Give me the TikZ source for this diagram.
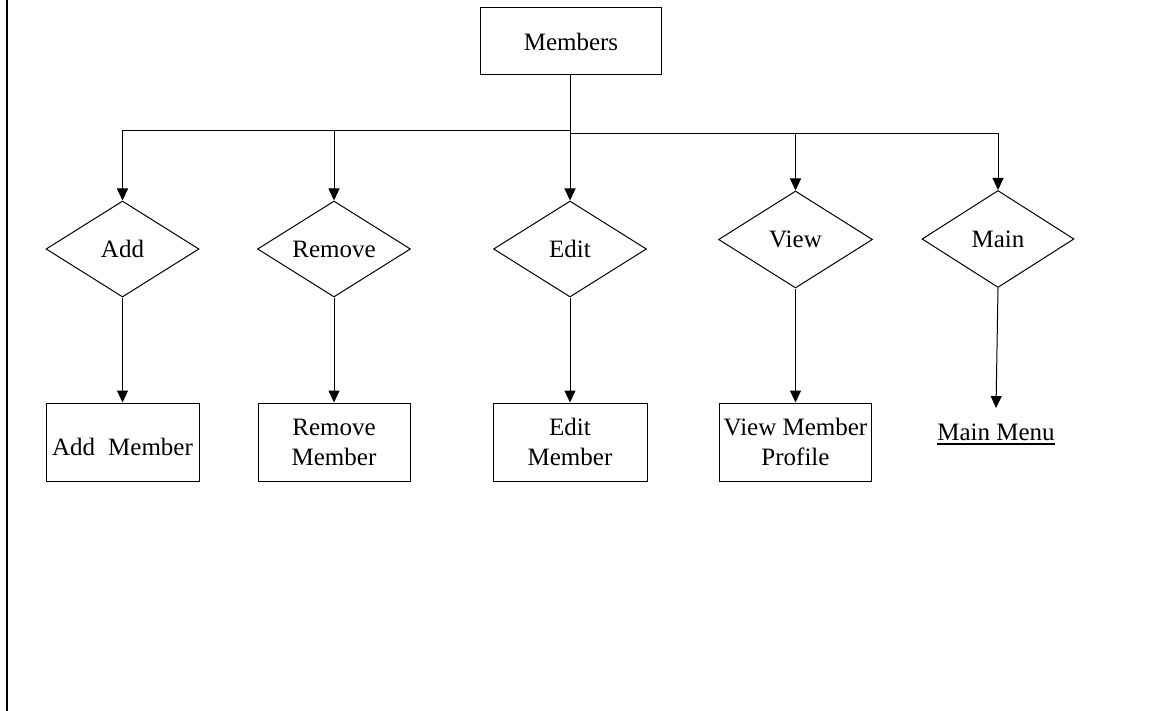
\documentclass[tikz,border=0pt]{standalone}
\usepackage{fontspec}
\setmainfont{Liberation Serif}
\usetikzlibrary{arrows.meta,shapes.geometric}
\begin{document}
\begin{tikzpicture}[x=1pt,y=-1pt,
  every node/.style={font=\fontsize{25}{30}\selectfont},
  boxnode/.style={draw,line width=1pt,rectangle,inner sep=0pt,minimum width=153pt,minimum height=78pt,align=center},
  decision/.style={draw,line width=1pt,diamond,aspect=1.6,inner sep=0pt,minimum width=153pt,minimum height=96pt},
  arr/.style={line width=1pt,-{Triangle[width=11pt,length=12pt]}},
  conn/.style={line width=1pt}]
\useasboundingbox (0,0) rectangle (1156,711);
% left border
\coordinate (bt) at (6.5,0);
\coordinate (bb) at (6.5,711);
\draw[line width=2pt] (bt) -- (bb);
% top
\node[draw,line width=1pt,rectangle,inner sep=0pt,minimum width=181pt,minimum height=67pt] (members) at (571,41.5) {Members};
% decisions
\node[decision] (add) at (122.5,249) {Add};
\node[decision] (remove) at (334,249) {Remove};
\node[decision] (edit) at (570,249) {Edit};
\node[decision,minimum width=154pt,minimum height=97pt] (view) at (795.5,239.5) {View};
\node[decision,minimum width=152pt,minimum height=97pt] (main) at (998,239) {Main};
% boxes
\node[boxnode,text height=28pt,align=none] (addm) at (122.5,442) {Add\hspace{13pt}Member};
\node[boxnode,minimum width=152pt] (remm) at (334,442) {Remove\\Member};
\node[boxnode,minimum width=154pt] (editm) at (570,442) {Edit\\Member};
\node[boxnode,minimum width=152pt] (viewm) at (795.5,442) {View Member\\Profile};
\node[inner sep=0pt,anchor=base] (mmenu) at (996,440) {Main Menu};
\draw[line width=2pt] ([yshift=-3.5pt]mmenu.base west) -- ([yshift=-3.5pt]mmenu.base east);
% junctions
\coordinate (jl) at (570,131);
\coordinate (jr) at (570,133.3);
\coordinate (mtip) at (996,408);
\draw[conn] (members.south -| jl) -- (jl);
\draw[arr] (jl) -| (add.north);
\draw[arr] (jl -| remove.north) -- (remove.north);
\draw[arr] (jl) -- (edit.north);
\draw[arr] (jr) -| (view.north);
\draw[arr] (view.north |- jr) -| (main.north);
% lower
\draw[arr] (add.south) -- (addm.north);
\draw[arr] (remove.south) -- (remm.north);
\draw[arr] (edit.south) -- (editm.north);
\draw[arr] (view.south) -- (viewm.north);
\draw[arr] (main.south) -- (mtip);
\end{tikzpicture}
\end{document}
